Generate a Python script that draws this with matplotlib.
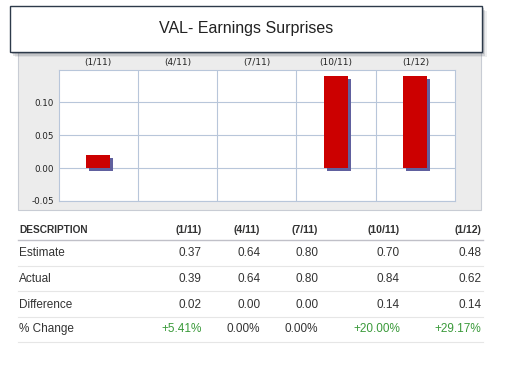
import matplotlib
matplotlib.use("Agg")
import matplotlib.pyplot as plt
import matplotlib.transforms as mtransforms
from matplotlib.patches import Rectangle
import numpy as np

quarters = ["(1/11)", "(4/11)", "(7/11)", "(10/11)", "(1/12)"]
estimate = [0.37, 0.64, 0.80, 0.70, 0.48]
actual = [0.39, 0.64, 0.80, 0.84, 0.62]
difference = [0.02, 0.00, 0.00, 0.14, 0.14]
pct_change = ["+5.41%", "0.00%", "0.00%", "+20.00%", "+29.17%"]
yticks = [-0.05, 0.00, 0.05, 0.10]

W, H = 509, 367
fig = plt.figure(figsize=(W / 100, H / 100), dpi=100)
fig.patch.set_facecolor("white")

# background layer in pixel coordinates
bg = fig.add_axes([0, 0, 1, 1], zorder=0)
bg.set_xlim(0, W)
bg.set_ylim(H, 0)
bg.axis("off")

# grey panel
bg.add_patch(Rectangle((18, 40), 463, 170, facecolor="#ececec", edgecolor="#c8ccd4", lw=0.8))
# title box shadow
for i, a in enumerate([0.10, 0.18, 0.28]):
    d = 5 - i * 1.5
    bg.add_patch(Rectangle((10 + d, 6 + d), 472, 46, facecolor="#555a66", alpha=a, edgecolor="none"))
bg.add_patch(Rectangle((10, 6), 472, 46, facecolor="white", edgecolor="#2d3a4a", lw=1.0, zorder=3))
bg.text(246, 29, "VAL- Earnings Surprises", ha="center", va="center", fontsize=11.5,
        family="Liberation Sans", color="#222222", zorder=4)

# chart axes
x0, x1, y0, y1 = 58.7, 455.0, 69.7, 201.0
ax = fig.add_axes([x0 / W, 1 - y1 / H, (x1 - x0) / W, (y1 - y0) / H], zorder=2)
ax.set_facecolor("white")
x = np.arange(len(quarters))
ax.set_xlim(-0.5, len(quarters) - 0.5)
ax.set_ylim(-0.05, 0.149)

shadow_tr = mtransforms.offset_copy(ax.transData, fig=fig, x=3, y=-3, units="dots")
ax.bar(x, difference, width=0.3, color="#60609e", transform=shadow_tr, zorder=2, linewidth=0)
ax.bar(x, difference, width=0.3, color="#cc0000", zorder=3, linewidth=0)

grid_c = "#b8c6da"
for v in yticks:
    ax.axhline(v, color=grid_c, lw=0.8, zorder=1)
for b in np.arange(0.5, len(quarters) - 0.5, 1.0):
    ax.axvline(b, color=grid_c, lw=0.8, zorder=1)
for s in ax.spines.values():
    s.set_color(grid_c)
    s.set_linewidth(0.8)

ax.set_yticks(yticks)
ax.set_yticklabels([f"{v:.2f}" for v in yticks], fontsize=6.3, color="#222222")
ax.tick_params(axis="y", length=0, pad=3.5)
ax.set_xticks(x)
ax.set_xticklabels(quarters, fontsize=6.5, color="#222222")
ax.xaxis.tick_top()
ax.tick_params(axis="x", length=0, pad=2)

# table
tf = "Liberation Sans"
tc = "#333333"
col_r = [201.7, 260.3, 318.3, 400.0, 481.3]
left = 19.3
hy = 230
bg.text(left, hy, "DESCRIPTION", ha="left", va="center", fontsize=7.3, fontweight="bold", family=tf, color=tc)
for cx, q in zip(col_r, quarters):
    bg.text(cx, hy, q, ha="right", va="center", fontsize=7.6, fontweight="bold", family=tf, color=tc)
bg.plot([18, 483], [239.5, 239.5], color="#c0c0c8", lw=1.0)

rows = [
    ("Estimate", [f"{v:.2f}" for v in estimate], [tc] * 5),
    ("Actual", [f"{v:.2f}" for v in actual], [tc] * 5),
    ("Difference", [f"{v:.2f}" for v in difference], [tc] * 5),
    ("% Change", pct_change, ["#3a9a3a" if p.startswith("+") else tc for p in pct_change]),
]
row_y = [252.7, 279.0, 304.7, 329.0]
sep_y = [265.5, 291.0, 316.8, 342.0]
for (name, vals, cols), ry, sy in zip(rows, row_y, sep_y):
    bg.text(left, ry, name, ha="left", va="center", fontsize=8.5, family=tf, color=tc)
    for cx, v, c in zip(col_r, vals, cols):
        bg.text(cx, ry, v, ha="right", va="center", fontsize=8.5, family=tf, color=c)
    bg.plot([18, 483], [sy, sy], color="#e6e6e6", lw=0.8)

fig.savefig("out.png", dpi=100)
